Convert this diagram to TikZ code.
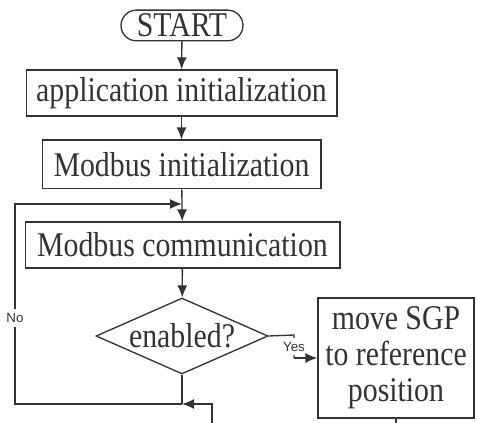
\documentclass[tikz,border=0pt]{standalone}
\usepackage{fontspec}
\setmainfont{Liberation Serif}[FakeStretch=0.86]
\setsansfont{Liberation Sans}
\usetikzlibrary{arrows.meta}
\usetikzlibrary{shapes.geometric}
\definecolor{linegray}{rgb}{0.2,0.2,0.2}

\begin{document}
\begin{tikzpicture}[x=0.75pt,y=-0.75pt,
    line width=1pt,draw=linegray,text=linegray,
    >={Latex[length=9pt,width=7.5pt]},
    every node/.style={font=\fontsize{26}{27}\selectfont},
    box/.style={draw,rectangle,inner sep=0pt,align=center},
    branch/.style={font=\sffamily\fontsize{10}{11}\selectfont,fill=white,inner xsep=1pt,inner ysep=3pt}]
    \useasboundingbox (0,0) rectangle (477,423);
    \node[box,rounded corners=11.5pt,minimum width=91.5pt,minimum height=23pt] (start) at (182,25.5) {START};
    \node[box,minimum width=233pt,minimum height=34.5pt] (app) at (181.5,93) {application initialization};
    \node[box,minimum width=209pt,minimum height=36.5pt] (init) at (181.5,164.5) {Modbus initialization};
    \node[box,minimum width=236pt,minimum height=34.5pt] (comm) at (182.5,245) {Modbus communication};
    \node[draw,diamond,aspect=2.26,inner sep=0pt,minimum width=129pt,minimum height=57pt] (dec) at (182,336) {enabled?};
    \node[box,minimum width=117pt,minimum height=90pt] (move) at (396,358) {move SGP\\to reference\\position};
    \coordinate (merge) at (182,404);
    \coordinate (ret) at (212,404);
    \coordinate (nobot) at (15,404);
    \coordinate (notop) at (15,204);
    \coordinate (entry) at (182,204);
    \coordinate (yesbend) at (294,335);
    \foreach \a/\b in {start/app,app/init,init/comm,comm/dec}
    {
      \draw[->] (\a) -- (\b);
    }
    \draw (dec.east) -- (yesbend) -- node[branch] {Yes} (yesbend |- move.west);
    \draw[->] (yesbend |- move.west) -- (move.west);
    \draw (dec.south) -- (merge);
    \draw[->] (merge) -- (nobot) -- node[branch,pos=0.43] {No} (notop) -- (entry);
    \draw[->] (move.south) -- ++(0,30) -| (ret) -- (merge);
\end{tikzpicture}
\end{document}
